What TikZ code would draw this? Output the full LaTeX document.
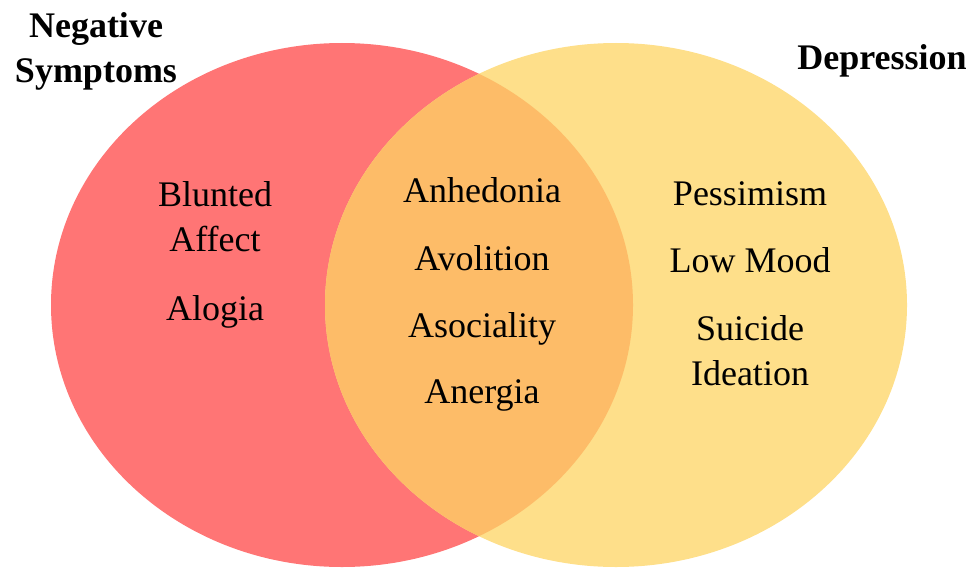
\documentclass[tikz,border=0pt]{standalone}
\usepackage{fontspec}
\setmainfont{Liberation Serif}
\definecolor{negred}{RGB}{255,117,117}
\definecolor{depyellow}{RGB}{254,223,138}
\definecolor{bothorange}{RGB}{253,188,104}
\tikzset{
	symptom/.style={anchor=base, align=center, inner sep=0pt,
			font=\fontsize{18}{22.5}\selectfont},
	settitle/.style={symptom, font=\fontsize{18}{22.5}\selectfont\bfseries}
}

\begin{document}
\begin{tikzpicture}[x=0.5pt, y=-0.5pt]
        \useasboundingbox (0, 0) rectangle (973, 567);
        \fill [negred] (342, 305) ellipse [x radius=291, y radius=262];
        \fill [depyellow] (616, 305) ellipse [x radius=291, y radius=262];
        \begin{scope}
            \clip (342, 305) ellipse [x radius=291, y radius=262];
            \fill [bothorange] (616, 305) ellipse [x radius=291, y radius=262];
        \end{scope}
        \node [settitle] (negtitle) at (96, 83) {Negative\\Symptoms};
        \node [settitle] (deptitle) at (882, 70) {Depression};
        \node [symptom] (blunted) at (215, 251) {Blunted\\Affect};
        \node [symptom] (alogia) at (215, 320) {Alogia};
        \node [symptom] (anhedonia) at (482, 202) {Anhedonia};
        \node [symptom] (avolition) at (482, 270) {Avolition};
        \node [symptom] (asociality) at (482, 337) {Asociality};
        \node [symptom] (anergia) at (482, 403) {Anergia};
        \node [symptom] (pessimism) at (750, 205) {Pessimism};
        \node [symptom] (lowmood) at (750, 272) {Low Mood};
        \node [symptom] (suicide) at (750, 385) {Suicide\\Ideation};
    \end{tikzpicture}
\end{document}
